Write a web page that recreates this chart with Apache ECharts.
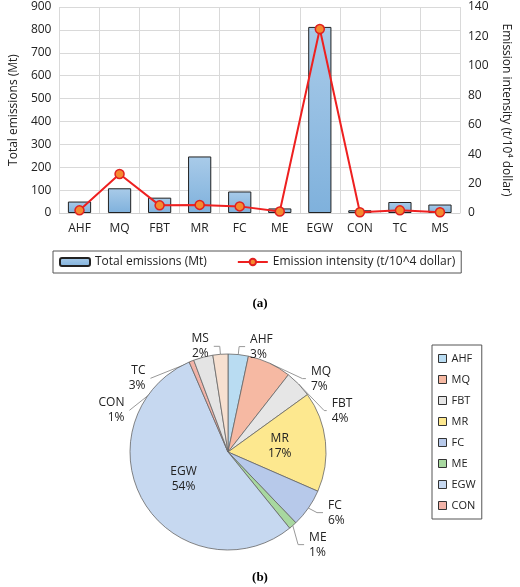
<!DOCTYPE html><html><head><meta charset="utf-8">
<script src="https://cdn.jsdelivr.net/npm/echarts@6/dist/echarts.min.js"></script>
<style>body{margin:0;background:#fff}#c{width:520px;height:587px}</style></head><body><div id="c"></div>
<script>
var categories=['AHF','MQ','FBT','MR','FC','ME','EGW','CON','TC','MS'];
var totalEmissions=[50,108,67,247,94,20,813,12,48,37];
var intensity=[1.8,26.5,5.2,5.5,4.5,1,125,0.5,1.8,0.5];
var pieColors=['#b9dcf2','#f6b9a3','#e6e6e6','#fde88f','#b7c9ea','#a8d8a0','#c6d8f0','#f2b3a8','#e4e4e4','#f7e0d0'];
var legendNames=['AHF','MQ','FBT','MR','FC','ME','EGW','CON'];
var F='"Open Sans",Calibri,sans-serif';
var ch=echarts.init(document.getElementById('c'));
ch.setOption({
 textStyle:{fontFamily:F},
 animation:false,
 grid:{left:53,right:57,top:7,height:206},
 title:[{text:'(a)',left:'center',top:292,textStyle:{fontFamily:'Liberation Serif',fontSize:13,fontWeight:'bold',color:'#000'}},
        {text:'(b)',left:'center',top:566,textStyle:{fontFamily:'Liberation Serif',fontSize:13,fontWeight:'bold',color:'#000'}}],
 legend:[{data:['Total emissions (Mt)','Emission intensity (t/10^4 dollar)'],left:53,top:251,width:412,height:24,itemGap:30,
   borderColor:'#555',borderWidth:1,padding:[5,6],textStyle:{fontSize:12,color:'#222'},itemWidth:30,itemHeight:8},
  {data:legendNames,orient:'vertical',left:432,top:345,itemGap:10,padding:[8,6],borderColor:'#555',borderWidth:1,
   itemWidth:8,itemHeight:8,icon:'rect',textStyle:{fontSize:11,color:'#222'},itemStyle:{borderColor:'#333',borderWidth:1}}],
 xAxis:{type:'category',data:categories,axisTick:{show:false},axisLine:{lineStyle:{color:'#d0d0d0'}},
   axisLabel:{fontSize:12,color:'#222',margin:10},splitLine:{show:true,lineStyle:{color:'#d9d9d9'}}},
 yAxis:[{type:'value',min:0,max:900,interval:100,name:'Total emissions (Mt)',nameLocation:'middle',nameGap:38,
   nameTextStyle:{fontSize:12,color:'#222'},axisLabel:{fontSize:12,color:'#222'},splitLine:{lineStyle:{color:'#d9d9d9'}}},
  {type:'value',min:0,max:140,interval:20,name:'Emission intensity (t/10⁴ dollar)',nameLocation:'middle',nameGap:40,nameRotate:-90,
   nameTextStyle:{fontSize:12,color:'#222'},axisLabel:{fontSize:12,color:'#222'},splitLine:{show:false}}],
 series:[{name:'Total emissions (Mt)',type:'bar',data:totalEmissions,barWidth:'58%',
   itemStyle:{color:new echarts.graphic.LinearGradient(0,0,0,1,[{offset:0,color:'#a9cbe9'},{offset:1,color:'#7fb1dc'}]),borderColor:'#222',borderWidth:1}},
  {name:'Emission intensity (t/10^4 dollar)',type:'line',yAxisIndex:1,data:intensity,symbol:'circle',symbolSize:9,
   lineStyle:{color:'#ee2020',width:2},itemStyle:{color:'#f58a30',borderColor:'#e02020',borderWidth:1.5}},
  {type:'pie',center:[228,452],radius:[0,98],startAngle:90,clockwise:true,
   label:{fontSize:12,color:'#222',formatter:function(p){return p.name+'\n'+Math.round(p.percent)+'%';},lineHeight:15},
   labelLine:{length:8,length2:6,lineStyle:{color:'#999'}},
   itemStyle:{borderColor:'#666',borderWidth:0.8},
   data:categories.map(function(c,i){var o={name:c,value:totalEmissions[i],itemStyle:{color:pieColors[i]}};
     if(c==='EGW'||c==='MR')o.label={position:'inside'};return o;})}]
});
</script></body></html>
